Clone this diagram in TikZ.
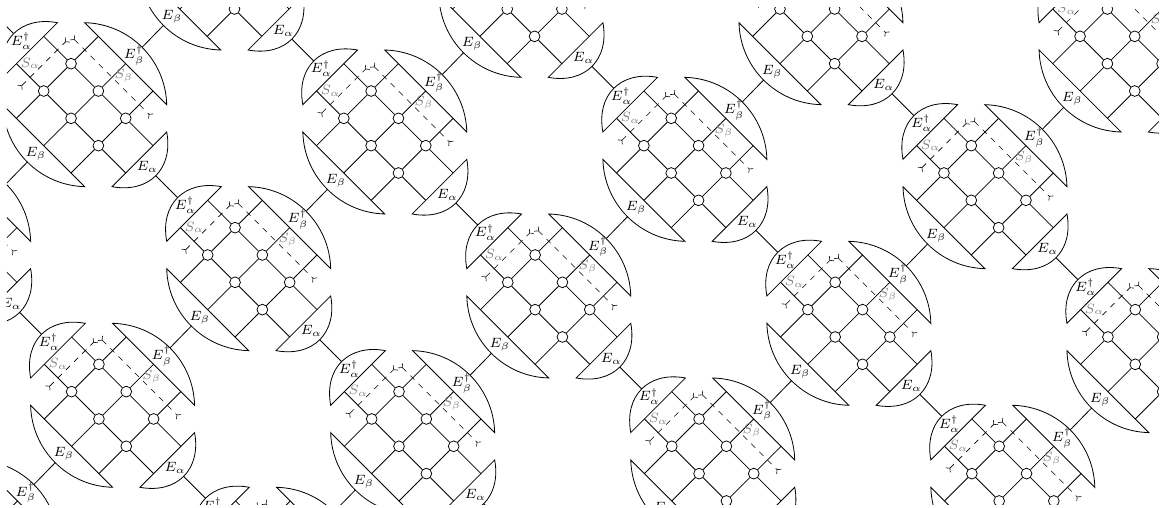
\documentclass[tikz,border=0pt]{standalone}
\usepackage{amsmath}
\usepackage{amssymb}
\usetikzlibrary{arrows.meta}

\begin{document}
\begin{tikzpicture}[
    every node/.style={font=\scriptsize},
    dot/.style={circle, draw, fill=white, inner sep=0pt, minimum size=5.6pt},
    tn/.style={line width=0.42pt},
    lg/.style={dashed, line width=0.3pt, {Straight Barb[reversed,length=1.4pt,width=3.4pt]}-{Straight Barb[reversed,length=1.4pt,width=3.4pt]}},
    el/.style={inner sep=0pt},
    sl/.style={inner sep=0pt, text=gray}
]
\useasboundingbox (0,0) rectangle (21.387,-9.294);
\clip (0.128,-0.146) rectangle (21.2,-9.236);
% one block per lattice site
\foreach \i in {-3,...,5} \foreach \j in {-4,...,6} {
  \pgfmathtruncatemacro{\vis}{and(and(4.3+3*\i+2.49*\j>-1.7,4.3+3*\i+2.49*\j<22.55),and(4.165+3*\i-2.5*\j>-2,4.165+3*\i-2.5*\j<10.05))}
  \begin{scope}[shift={(4.3+3*\i+2.49*\j,-4.165-3*\i+2.5*\j)}, x={(0.5cm,-0.5cm)}, y={(-0.5cm,-0.5cm)}, name prefix=n\i_\j-]
    \coordinate (adtip) at (-1.6,0.5);
    \coordinate (atip) at (3.6,0.5);
    \coordinate (bdtip) at (1,-1.6);
    \coordinate (btip) at (1,2.6);
    \ifnum\vis=1
    \foreach \p/\q in {0/0,0/1,1/0,1/1,2/0,2/1}
      \node[dot] (c\p\q) at (\p,\q) {};
    \foreach \q in {0,1} {
      \coordinate (ad\q) at (-1,\q);
      \coordinate (a\q) at (3,\q);
    }
    \foreach \p in {0,1,2} {
      \coordinate (bd\p) at (\p,-1);
      \coordinate (b\p) at (\p,2);
    }
    \foreach \q in {0,1}
      \draw[tn] (ad\q) -- (c0\q) -- (c1\q) -- (c2\q) -- (a\q);
    \foreach \p in {0,1,2}
      \draw[tn] (bd\p) -- (c\p0) -- (c\p1) -- (b\p);
    % caps
    \draw[tn] (-1,-0.5) .. controls (-1.8,0.05) and (-1.8,0.95) .. (-1,1.5) -- cycle;
    \draw[tn] (3,-0.5) .. controls (3.8,0.05) and (3.8,0.95) .. (3,1.5) -- cycle;
    \draw[tn] (-0.5,-1) .. controls (0.34,-1.8) and (1.66,-1.8) .. (2.5,-1) -- cycle;
    \draw[tn] (-0.5,2) .. controls (0.34,2.8) and (1.66,2.8) .. (2.5,2) -- cycle;
    \node[el] (ead) at (-1.32,0.5) {$E_\alpha^\dagger$};
    \node[el] (ea) at (3.29,0.5) {$E_\alpha$};
    \node[el] (ebd) at (1,-1.3) {$E_\beta^\dagger$};
    \node[el] (eb) at (1,2.29) {$E_\beta$};
    % swap legs
    \coordinate (sa0) at (-0.5,-0.38);
    \coordinate (sa1) at (-0.5,1.38);
    \coordinate (sb0) at (-0.46,-0.5);
    \coordinate (sb1) at (2.43,-0.5);
    \draw[lg] (sa1) -- (sa0);
    \draw[lg] (sb0) -- (sb1);
    \node[sl] (sa) at (-0.75,0.74) {$S_\alpha$};
    \node[sl] (sb) at (1.19,-0.74) {$S_\beta$};
    \fi
  \end{scope}
}
% bonds between blocks
\foreach \i in {-3,...,4} \foreach \j in {-4,...,6} {
  \pgfmathtruncatemacro{\ni}{\i+1}
  \draw[tn] (n\i_\j-atip) -- (n\ni_\j-adtip);
}
\foreach \i in {-3,...,5} \foreach \j in {-3,...,6} {
  \pgfmathtruncatemacro{\nj}{\j-1}
  \draw[tn] (n\i_\j-btip) -- (n\i_\nj-bdtip);
}
\end{tikzpicture}
\end{document}
